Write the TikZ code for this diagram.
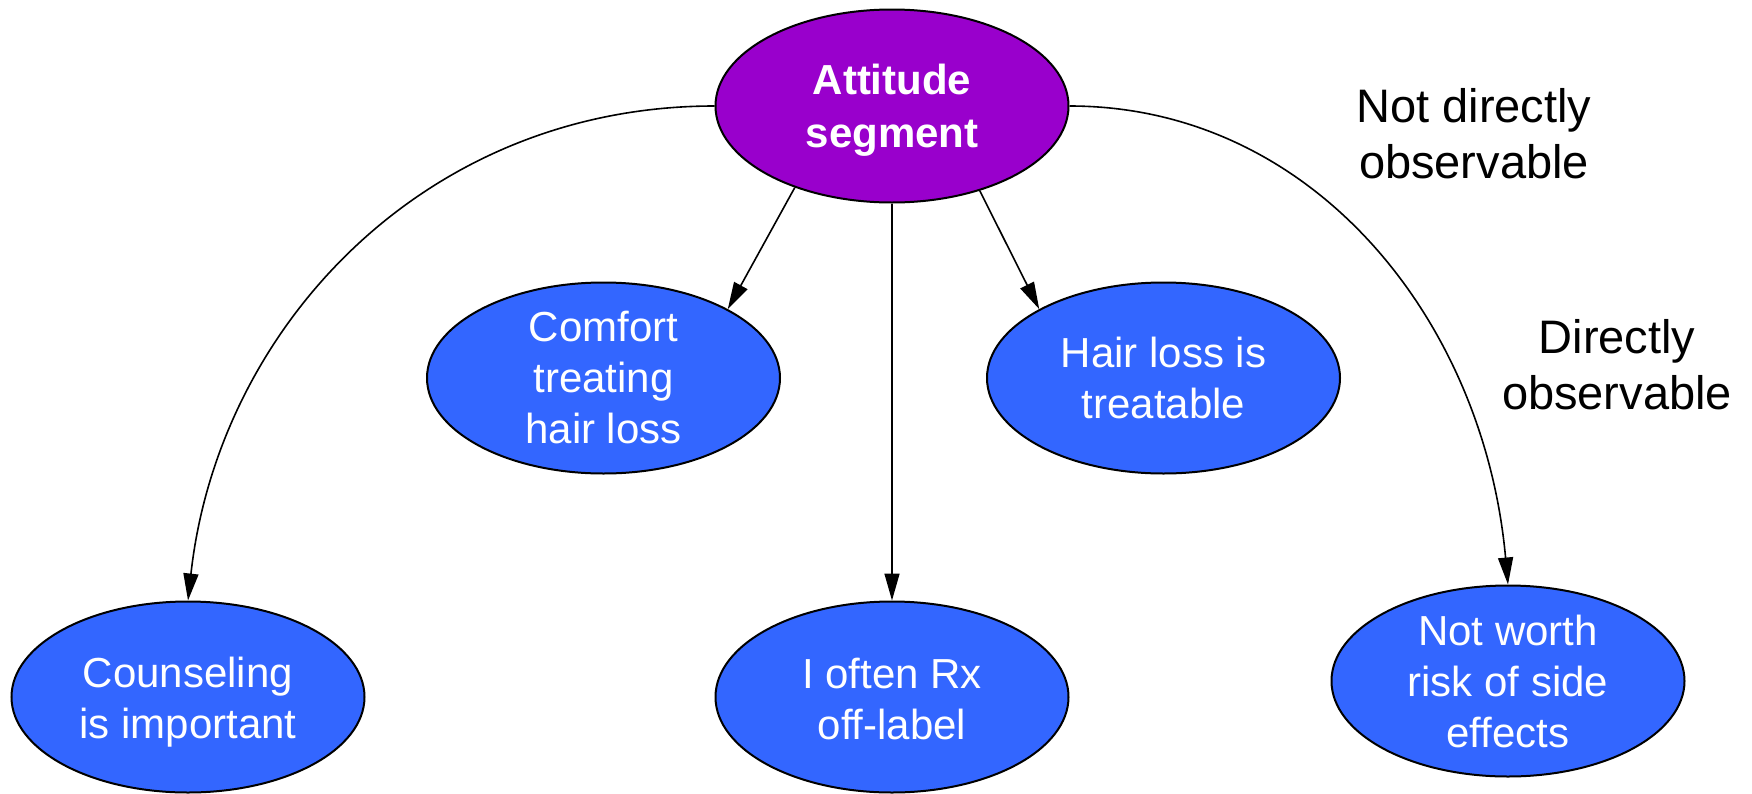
\documentclass[tikz,border=0pt]{standalone}
\usepackage{fontspec}
\setmainfont{Liberation Sans}
\usetikzlibrary{shapes.geometric,arrows.meta}
\definecolor{segpurple}{HTML}{9900CC}
\definecolor{itemblue}{HTML}{3366FF}
\begin{document}
\begin{tikzpicture}[x=0.5pt,y=-0.5pt,
  oval/.style={ellipse, draw=black, line width=1pt, fill=itemblue,
    minimum width=176.5pt, minimum height=95.5pt, inner sep=0pt},
  ovaltext/.style={text=white, align=center, inner sep=0pt,
    font=\fontsize{21}{25.5}\selectfont},
  boldtext/.style={text=white, align=center, inner sep=0pt,
    font=\bfseries\fontsize{21}{26.5}\selectfont},
  link/.style={line width=0.8pt, -{Triangle[length=13.5pt,width=7.5pt]}},
  note/.style={align=center, inner sep=0pt, font=\fontsize{23.5}{28}\selectfont}]
\useasboundingbox (0,0) rectangle (1752,793);

% latent segment
\node[oval, fill=segpurple, minimum height=96.5pt,
  label={[boldtext, yshift=-2.2pt]center:Attitude\\segment}] (att) at (892,106) {};

% observed attitudes
\node[oval, label={[ovaltext]center:Comfort\\treating\\hair loss}] (comf) at (603.5,378) {};
\node[oval, label={[ovaltext]center:Hair loss is\\treatable}] (hair) at (1163.5,378) {};
\node[oval, label={[ovaltext, yshift=-2.5pt]center:Counseling\\is important}] (couns) at (188,697) {};
\node[oval, label={[ovaltext, yshift=-0.8pt]center:I often Rx\\off-label}] (rx) at (892,697) {};
\node[oval, label={[ovaltext]center:Not worth\\risk of side\\effects}] (worth) at (1508,681) {};

% side notes
\node[note] (latentnote) at (1474,134) {Not directly\\observable};
\node[note] (obsnote) at (1617,365) {Directly\\observable};

% connectors
\draw[link] (att.west) .. controls +(-291,0) and +(30,-272) .. (couns.north);
\draw[link] (att.east) .. controls +(243,0) and +(-24,-265) .. (worth.north);
\draw[link] (att.220) -- (comf.29);
\draw[link] (att.316) -- (hair.151);
\draw[link] (att.south) -- (rx.north);
\end{tikzpicture}
\end{document}
